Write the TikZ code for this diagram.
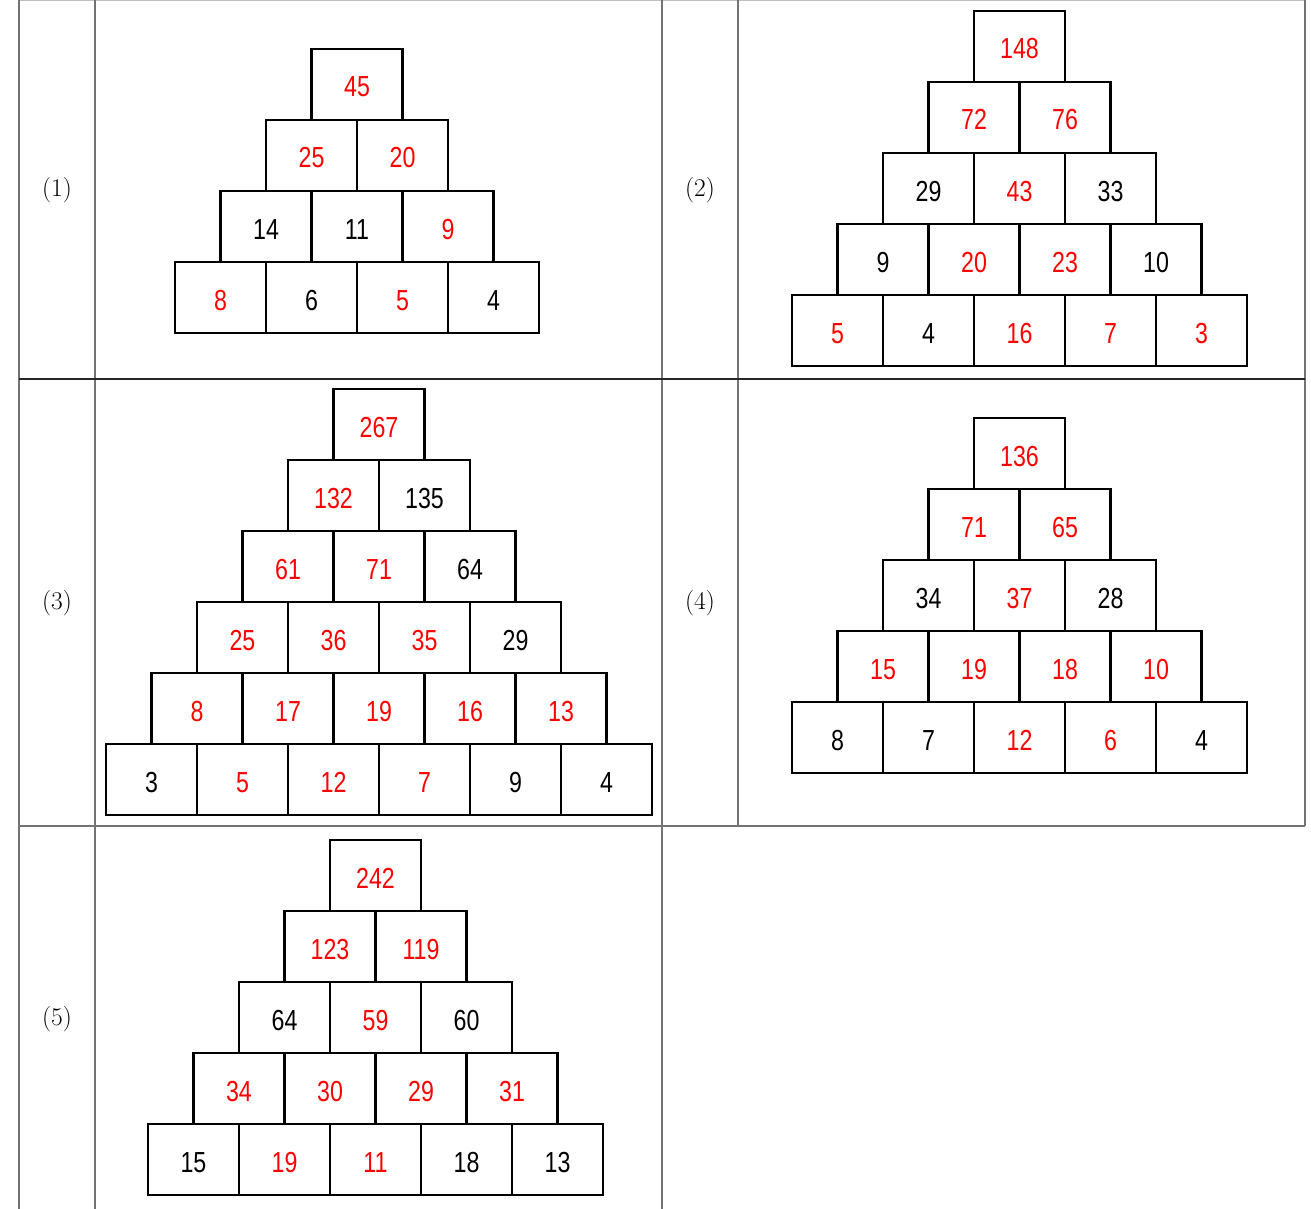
\documentclass[tikz,border=0pt]{standalone}
\usepackage{fontspec}
\newfontfamily\numfont[FakeStretch=0.8]{Liberation Sans}
\definecolor{gridgray}{RGB}{115,115,115}
\definecolor{topgray}{RGB}{190,190,190}
\definecolor{numred}{RGB}{255,0,0}
\tikzset{
  cellbox/.style={draw=black, line width=2.3pt, minimum width=91pt, minimum height=71pt,
    inner sep=0pt, outer sep=0pt, text height=25pt, text depth=0pt,
    font=\numfont\fontsize{29}{32}\selectfont},
  gridline/.style={draw=gridgray, line width=1.5pt},
  lab/.style={font=\fontsize{25.5}{30}\selectfont, inner sep=0pt}
}
\newcommand\mkpyr[4]{% #1 name, #2 x0, #3 bottom y, #4 rows list (bottom first)
  \foreach \row [count=\r from 0] in {#4} {
    \foreach \v/\c [count=\i from 0] in \row {
      \node[cellbox, text=\c] (#1-\r-\i) at ({#2+\r*45.5+\i*91+45.5},{#3-\r*71-35.5}) {\v};
    }
  }
}
\begin{document}
\begin{tikzpicture}[x=1pt,y=-1pt]
\useasboundingbox (0,0) rectangle (1311,1209);
\fill[white] (0,0) rectangle (1311,1209);
% grid
\draw[draw=topgray, line width=1.4pt] (19,0.7) -- (1305,0.7);
\draw[gridline] (19,0) -- (19,1209);
\draw[gridline] (95,0) -- (95,1209);
\draw[gridline] (662,0) -- (662,1209);
\draw[gridline] (738,0) -- (738,826);
\draw[gridline] (1305,0) -- (1305,826);
\draw[draw=black!85, line width=1.3pt] (19,379) -- (1305,379);
\draw[gridline] (19,826) -- (1305,826);
% labels
\node[lab] (lab1) at (57,190) {(1)};
\node[lab] (lab2) at (700,190) {(2)};
\node[lab] (lab3) at (57,603) {(3)};
\node[lab] (lab4) at (700,603) {(4)};
\node[lab] (lab5) at (57,1019) {(5)};
% pyramid 1
\mkpyr{pa}{175}{333}{{8/numred,6/black,5/numred,4/black},{14/black,11/black,9/numred},{25/numred,20/numred},{45/numred}}
% pyramid 2
\mkpyr{pb}{792}{366}{{5/numred,4/black,16/numred,7/numred,3/numred},{9/black,20/numred,23/numred,10/black},{29/black,43/numred,33/black},{72/numred,76/numred},{148/numred}}
% pyramid 3
\mkpyr{pc}{106}{815}{{3/black,5/numred,12/numred,7/numred,9/black,4/black},{8/numred,17/numred,19/numred,16/numred,13/numred},{25/numred,36/numred,35/numred,29/black},{61/numred,71/numred,64/black},{132/numred,135/black},{267/numred}}
% pyramid 4
\mkpyr{pd}{792}{773}{{8/black,7/black,12/numred,6/numred,4/black},{15/numred,19/numred,18/numred,10/numred},{34/black,37/numred,28/black},{71/numred,65/numred},{136/numred}}
% pyramid 5
\mkpyr{pe}{148}{1195}{{15/black,19/numred,11/numred,18/black,13/black},{34/numred,30/numred,29/numred,31/numred},{64/black,59/numred,60/black},{123/numred,119/numred},{242/numred}}
\end{tikzpicture}
\end{document}
